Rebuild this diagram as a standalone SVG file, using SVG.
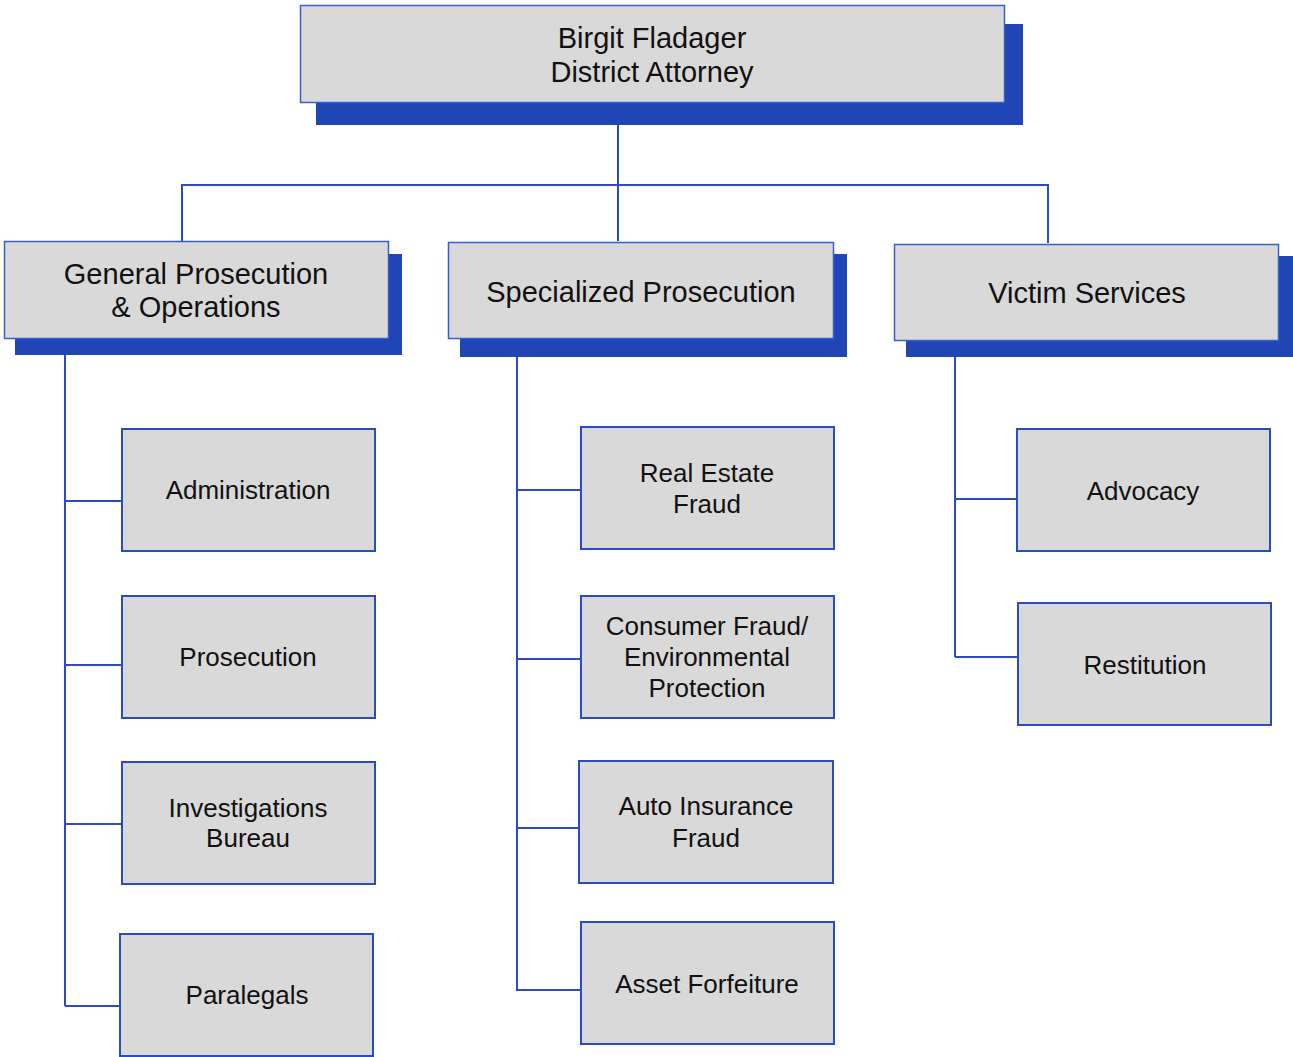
<svg xmlns="http://www.w3.org/2000/svg" width="1293" height="1057" viewBox="0 0 1293 1057">
<style>
.shadow{fill:#2045b5;stroke:none}
.box{fill:#d9d9d9;stroke:#2a4cbf;stroke-width:2}
.top{fill:#d9d9d9;stroke:#3a5ccc;stroke-width:1.5}
.t{font-family:"Liberation Sans",Arial,sans-serif;fill:#111;text-anchor:middle}
.big{font-size:29px}
.small{font-size:26px}
.conn{fill:none;stroke:#2a4cbf;stroke-width:2}
</style>
<rect width="1293" height="1057" fill="#fff"/>
<g id="connectors">
<path class="conn" d="M618,125 V241 M182,185 H1048 M182,184 V241 M1048,184 V243"/>
<path class="conn" d="M65,355 V1006 M65,501 H122 M65,665 H122 M65,824 H122 M65,1006 H120"/>
<path class="conn" d="M517,357 V991 M517,490 H580 M517,659 H580 M517,828 H579 M517,990 H580"/>
<path class="conn" d="M955,357 V657 M955,499 H1017 M955,657 H1018"/>
</g>
<g id="da">
<rect class="shadow" x="316" y="24" width="707" height="101"/>
<rect class="top" x="300.5" y="5.5" width="704" height="97"/>
<text class="t big" x="652" y="48">Birgit Fladager</text>
<text class="t big" x="652" y="82">District Attorney</text>
</g>
<g id="general">
<rect class="shadow" x="15" y="254" width="387" height="101"/>
<rect class="top" x="4.5" y="241.5" width="384" height="97"/>
<text class="t big" x="196" y="284">General Prosecution</text>
<text class="t big" x="196" y="317">&amp; Operations</text>
</g>
<g id="specialized">
<rect class="shadow" x="460" y="254" width="387" height="103"/>
<rect class="top" x="448.5" y="242.5" width="385" height="96"/>
<text class="t big" x="641" y="302">Specialized Prosecution</text>
</g>
<g id="victim">
<rect class="shadow" x="906" y="256" width="387" height="101"/>
<rect class="top" x="894.5" y="244.5" width="384" height="96"/>
<text class="t big" x="1087" y="303">Victim Services</text>
</g>
<g id="administration">
<rect class="box" x="122" y="429" width="253" height="122"/>
<text class="t small" x="248" y="499">Administration</text>
</g>
<g id="prosecution">
<rect class="box" x="122" y="596" width="253" height="122"/>
<text class="t small" x="248" y="666">Prosecution</text>
</g>
<g id="investigations">
<rect class="box" x="122" y="762" width="253" height="122"/>
<text class="t small" x="248" y="817">Investigations</text>
<text class="t small" x="248" y="847">Bureau</text>
</g>
<g id="paralegals">
<rect class="box" x="120" y="934" width="253" height="122"/>
<text class="t small" x="247" y="1004">Paralegals</text>
</g>
<g id="realestate">
<rect class="box" x="581" y="427" width="253" height="122"/>
<text class="t small" x="707" y="482">Real Estate</text>
<text class="t small" x="707" y="513">Fraud</text>
</g>
<g id="consumer">
<rect class="box" x="581" y="596" width="253" height="122"/>
<text class="t small" x="707" y="635">Consumer Fraud/</text>
<text class="t small" x="707" y="666">Environmental</text>
<text class="t small" x="707" y="697">Protection</text>
</g>
<g id="autoinsurance">
<rect class="box" x="579" y="761" width="254" height="122"/>
<text class="t small" x="706" y="815">Auto Insurance</text>
<text class="t small" x="706" y="847">Fraud</text>
</g>
<g id="asset">
<rect class="box" x="581" y="922" width="253" height="122"/>
<text class="t small" x="707" y="993">Asset Forfeiture</text>
</g>
<g id="advocacy">
<rect class="box" x="1017" y="429" width="253" height="122"/>
<text class="t small" x="1143" y="500">Advocacy</text>
</g>
<g id="restitution">
<rect class="box" x="1018" y="603" width="253" height="122"/>
<text class="t small" x="1145" y="674">Restitution</text>
</g>
</svg>
